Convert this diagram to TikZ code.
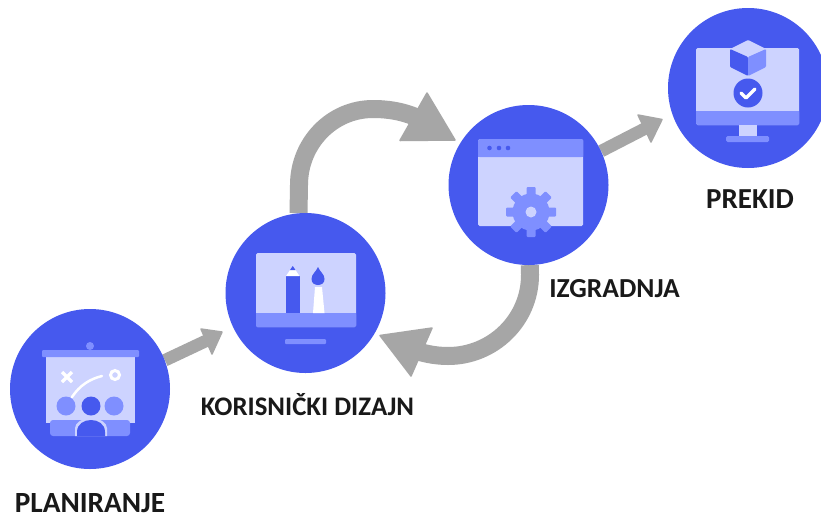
\documentclass[tikz,border=0pt]{standalone}
\usepackage{fontspec}
\setmainfont{Carlito}
\usetikzlibrary{backgrounds}
\definecolor{bluemain}{HTML}{4659EE}
\definecolor{bluelight}{HTML}{CDD3FF}
\definecolor{bluemid}{HTML}{7F8FFF}
\definecolor{arrowgrey}{HTML}{A6A6A6}
\tikzset{
  disc/.style={circle,fill=bluemain,draw=none,inner sep=0pt,minimum size=160pt},
  lbl/.style={font=\bfseries\fontsize{#1}{#1}\selectfont,text=black!90,inner sep=0pt,anchor=center},
  thinarrow/.style={draw=arrowgrey,line width=12.5pt},
  bigarrow/.style={draw=arrowgrey,line width=18pt},
  headfill/.style={fill=arrowgrey,draw=arrowgrey,line width=1.5pt,line join=round},
}
\begin{document}
\begin{tikzpicture}[x=1pt,y=-1pt]
\useasboundingbox (0,0) rectangle (821,520);
% circles
\node[disc] (plan) at (90,389) {};
\node[disc] (design) at (305.5,293) {};
\node[disc] (build) at (528.5,185) {};
\node[disc] (stop) at (748,88) {};
% labels
\node[lbl=29.3] (lplan) at (90,503) {PLANIRANJE};
\node[lbl=26.8] (ldesign) at (307.5,405) {KORISNIČKI DIZAJN};
\node[lbl=27.5] (lbuild) at (614.5,289) {IZGRADNJA};
\node[lbl=29] (lstop) at (750,199) {PREKID};
% free ends of the connectors
\coordinate (enda) at (210,339);
\coordinate (endb) at (428,123);
\coordinate (endc) at (410,349);
\coordinate (endd) at (648,127);
\begin{scope}[on background layer]
\fill[white] (0,0) rectangle (821,520);
\draw[thinarrow] (plan.21) -- (enda);
\draw[bigarrow] (design.95) -- (299,185) .. controls (299,143) and (332,109) .. (373,109) .. controls (395,109) and (412,114) .. (endb);
\draw[bigarrow] (build.-89) -- (530,275) .. controls (530,320) and (493,356) .. (448,356) .. controls (434,356) and (422,353) .. (endc);
\draw[thinarrow] (build.25) -- (endd);
\fill[headfill] (222,332) -- (201,329) -- (212,354) -- cycle;
\fill[headfill] (427,93) -- (455,140) -- (400,140.5) -- cycle;
\fill[headfill] (380,335.5) -- (432,328) -- (411,376) -- cycle;
\fill[headfill] (662,119.5) -- (638,115) -- (651,142) -- cycle;
\end{scope}
% icon: board
\fill[bluelight] (46,357) rectangle (135,423);
\fill[bluemid,rounded corners=1pt] (42,350) rectangle (139,357);
\fill[bluemid] (90,346) circle (4);
\draw[white,line width=3.5pt] (62,372) -- (72,382) (72,372) -- (62,382);
\draw[white,line width=3pt] (115,375) circle (4.5);
\draw[white,line width=2.5pt,line cap=round] (72,397) .. controls (80,385) and (90,379) .. (102,376);
\fill[bluemid] (66,406) circle (9.5) (114,406) circle (9.5);
\fill[bluemain] (91,406) circle (9.5);
\fill[bluemid,rounded corners=3pt] (50,436) -- (50,420) -- (130,420) -- (130,436) -- cycle;
\fill[bluelight] (75,436) -- (75,428) .. controls (75,423) and (82,418) .. (91,418) .. controls (100,418) and (107,423) .. (107,428) -- (107,436) -- cycle;
\fill[bluemain] (77,436) -- (77,432) .. controls (77,424) and (84,420) .. (91,420) .. controls (98,420) and (105,424) .. (105,432) -- (105,436) -- cycle;
% icon: design
\fill[bluelight,rounded corners=1.5pt] (256,253) rectangle (356,327);
\fill[bluemid,rounded corners=1.5pt] (256,313) rectangle (356,327);
\fill[bluemid] (256,313) rectangle (356,320);
\fill[bluemid,rounded corners=1pt] (285,339) rectangle (326,344);
\fill[bluemain] (286,276) rectangle (299.5,313);
\fill[white] (286,276) -- (290,270) -- (295.5,270) -- (299.5,276) -- cycle;
\fill[bluemain] (290,270) -- (292.75,266) -- (295.5,270) -- cycle;
\fill[bluemain] (318,267) .. controls (320,272) and (324.5,274) .. (324.5,279) .. controls (324.5,283) and (321.5,285) .. (318,285) .. controls (314.5,285) and (311.5,283) .. (311.5,279) .. controls (311.5,274) and (316,272) .. (318,267) -- cycle;
\fill[white] (315,287) -- (322,287) -- (324.5,313) -- (313,313) -- cycle;
% icon: window
\fill[bluelight,rounded corners=1.5pt] (478,139) rectangle (583,226);
\fill[bluemid,rounded corners=1.5pt] (478,139) rectangle (583,157);
\fill[bluemid] (478,150) rectangle (583,157);
\fill[bluemain] (489.5,148) circle (2.3) (499,148) circle (2.3) (508,148) circle (2.3);
\fill[bluemid] (531,212) circle (18.5);
\foreach \a in {0,45,...,315}
  \fill[bluemid,rounded corners=1pt,rotate around={\a:(531,212)}] (526.5,187) rectangle (535.5,198);
\fill[bluelight] (531,212) circle (5.5);
% icon: monitor
\fill[bluelight,rounded corners=1.5pt] (696,48) rectangle (799,125);
\fill[bluemid,rounded corners=1.5pt] (696,111) rectangle (799,125);
\fill[bluemid] (696,111) rectangle (799,117);
\fill[bluelight] (739,125) rectangle (757,136);
\fill[bluemid,rounded corners=1.5pt] (726,136) rectangle (769,142);
\fill[bluelight,rounded corners=1pt] (748,40) -- (766,49) -- (748,57) -- (730,49) -- cycle;
\fill[bluemain,rounded corners=1pt] (730,49) -- (748,57) -- (748,76) -- (730,67) -- cycle;
\fill[bluemid,rounded corners=1pt] (766,49) -- (748,57) -- (748,76) -- (766,67) -- cycle;
\fill[bluemain] (748,93) circle (14.5);
\draw[white,line width=3.5pt,line cap=round,line join=round] (741,93) -- (746,98) -- (755,89);
\end{tikzpicture}
\end{document}
